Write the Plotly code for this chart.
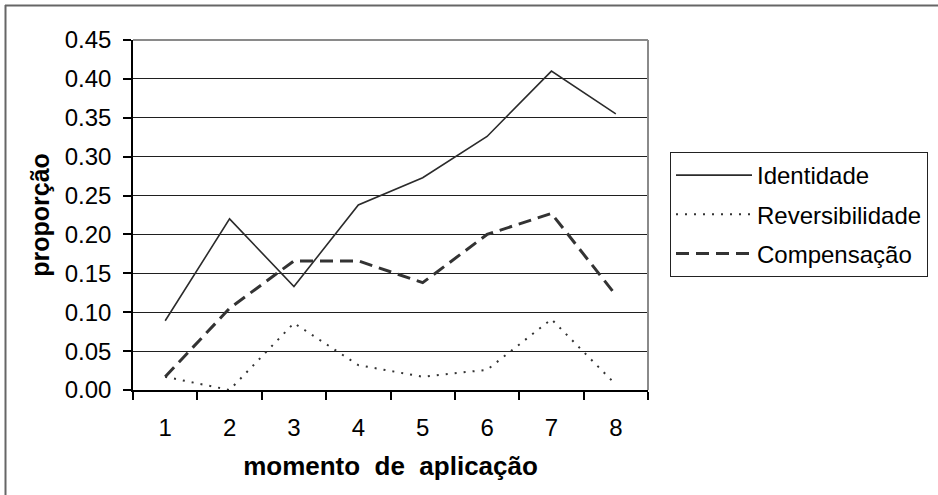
import plotly.graph_objects as go

# momento de aplicação (1..8) e proporções observadas
momentos = ["1", "2", "3", "4", "5", "6", "7", "8"]
identidade = [0.089, 0.220, 0.133, 0.238, 0.273, 0.326, 0.410, 0.355]
reversibilidade = [0.017, 0.000, 0.086, 0.032, 0.017, 0.026, 0.091, 0.007]
compensacao = [0.017, 0.105, 0.166, 0.166, 0.138, 0.200, 0.227, 0.122]
y_ticks = [0.00, 0.05, 0.10, 0.15, 0.20, 0.25, 0.30, 0.35, 0.40, 0.45]

W, H = 938, 495
ML, MR, MT, MB = 133, 290, 40, 105
PW = W - ML - MR
PH = H - MT - MB


def px_x(x):
    return (x - ML) / PW


def px_y(y):
    return (H - MB - y) / PH


FONT = "Liberation Sans, Arial, sans-serif"

fig = go.Figure()
fig.add_trace(go.Scatter(
    x=momentos, y=identidade, name="Identidade", mode="lines",
    legendgroup="a",
    line=dict(color="#2b2b2b", width=1.6),
))
fig.add_trace(go.Scatter(
    x=momentos, y=reversibilidade, name="Reversibilidade", mode="lines",
    legendgroup="b",
    line=dict(color="#333333", width=2, dash="2px,7px"),
))
fig.add_trace(go.Scatter(
    x=momentos, y=compensacao, name="Compensação", mode="lines",
    legendgroup="c",
    line=dict(color="#333333", width=3, dash="13px,7px"),
))

fig.update_layout(
    width=W, height=H,
    margin=dict(l=ML, r=MR, t=MT, b=MB, pad=0, autoexpand=False),
    paper_bgcolor="white", plot_bgcolor="white",
    font=dict(family=FONT, size=24, color="black"),
    showlegend=True,
    legend=dict(
        x=px_x(670), y=px_y(152), xanchor="left", yanchor="top",
        bordercolor="#222222", borderwidth=1, bgcolor="white",
        font=dict(family=FONT, size=24, color="black"),
        itemwidth=76, tracegroupgap=5, traceorder="grouped",
    ),
    xaxis=dict(
        type="category", range=[-0.5, 7.5], tickson="boundaries",
        ticks="outside", ticklen=8, tickwidth=1.5, tickcolor="black",
        showline=True, linecolor="black", linewidth=1.5,
        showgrid=False, zeroline=False,
        tickfont=dict(family=FONT, size=24),
        ticklabelstandoff=15,
        title=dict(text="momento\u00a0 de\u00a0 aplicação",
                   font=dict(family=FONT, size=26, weight="bold"),
                   standoff=17),
    ),
    yaxis=dict(
        range=[0, 0.45], tickvals=y_ticks,
        ticktext=[f"{v:.2f}" for v in y_ticks],
        ticks="outside", ticklen=8, tickwidth=1.5, tickcolor="black",
        showline=True, linecolor="black", linewidth=1.5,
        showgrid=True, gridcolor="#1f1f1f", gridwidth=1,
        zeroline=False,
        tickfont=dict(family=FONT, size=24),
        ticklabelstandoff=7,
        title=dict(text="proporção",
                   font=dict(family=FONT, size=25, weight="bold"),
                   standoff=8),
    ),
    shapes=[
        # top and right edges of the plotting area
        dict(type="line", xref="paper", yref="paper", x0=0, x1=1, y0=1, y1=1,
             line=dict(color="#8a8a8a", width=2)),
        dict(type="line", xref="paper", yref="paper", x0=1, x1=1, y0=0, y1=1,
             line=dict(color="#8a8a8a", width=2)),
        # chart frame (left and top)
        dict(type="line", xref="paper", yref="paper",
             x0=px_x(5.5), x1=px_x(5.5), y0=px_y(5), y1=px_y(H + 5),
             line=dict(color="#666666", width=2)),
        dict(type="line", xref="paper", yref="paper",
             x0=px_x(5), x1=px_x(W + 5), y0=px_y(5.5), y1=px_y(5.5),
             line=dict(color="#666666", width=2)),
    ],
)

fig.write_html("out.html")
